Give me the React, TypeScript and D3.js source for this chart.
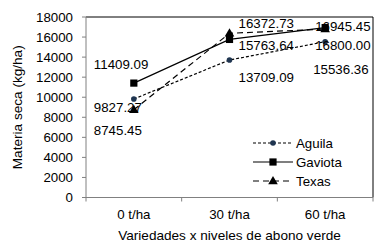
import React from "react";
import * as d3 from "d3";

const categories = ["0 t/ha", "30 t/ha", "60 t/ha"];
const seriesNames = ["Aguila", "Gaviota", "Texas"];
const aguila = [9827.27, 13709.09, 15536.36];
const gaviota = [11409.09, 15763.64, 16945.45];
const texas = [8745.45, 16372.73, 16800.0];
const yTicks = [0, 2000, 4000, 6000, 8000, 10000, 12000, 14000, 16000, 18000];

// label offsets (dx from category centre to text start, dy from point to baseline)
const labelOffsets: Record<string, [number, number][]> = {
  Aguila: [[-40, 13], [9, 22], [-12, 32]],
  Gaviota: [[-40, -14], [9, 11], [-10, 3]],
  Texas: [[-40, 25], [9, -5], [-10, 21]],
};

const W = 381, H = 246;
const L = 86, R = 373, T = 17, B = 197.5;
const font = "Liberation Sans, Arial, sans-serif";

export default function App() {
  const x = d3.scaleBand<string>().domain(categories).range([L, R]).padding(0);
  const y = d3.scaleLinear().domain([0, 18000]).range([B, T]);
  const cx = (c: string) => (x(c) as number) + x.bandwidth() / 2;
  const series = [
    { name: "Aguila", values: aguila, dash: "3,2", marker: "circle" },
    { name: "Gaviota", values: gaviota, dash: "", marker: "square" },
    { name: "Texas", values: texas, dash: "6,4", marker: "triangle" },
  ];
  const line = d3
    .line<number>()
    .x((_, i) => cx(categories[i]))
    .y((v) => y(v));
  const boundaries = [...categories.map((c) => x(c) as number), R];

  const marker = (type: string, px: number, py: number, key?: string) => {
    if (type === "circle")
      return <circle key={key} cx={px} cy={py} r={2.8} fill="#1f3550" />;
    if (type === "square")
      return <rect key={key} x={px - 3.6} y={py - 3.6} width={7.2} height={7.2} fill="#000" />;
    const s = d3.symbol(d3.symbolTriangle, 40)() as string;
    return <path key={key} d={s} transform={`translate(${px},${py + 0.5})`} fill="#000" />;
  };

  return (
    <svg width={W} height={H} style={{ position: "absolute", left: 0, top: 0, background: "#fff" }} fontFamily={font}>
      <rect x={0} y={0} width={W} height={H} fill="#fff" />
      {/* box */}
      <line x1={L} x2={R} y1={T} y2={T} stroke="#000" strokeWidth={1} />
      <line x1={R} x2={R} y1={T} y2={B} stroke="#000" strokeWidth={1} />
      <line x1={L} x2={L} y1={T} y2={B} stroke="#808080" strokeWidth={1} />
      <line x1={L} x2={R} y1={B} y2={B} stroke="#808080" strokeWidth={1} />
      {yTicks.map((t) => (
        <g key={t}>
          <line x1={L - 4} x2={L} y1={y(t)} y2={y(t)} stroke="#808080" />
          <text x={73} y={y(t)} dy="0.35em" textAnchor="end" fontSize={13.3} fill="#000">
            {t}
          </text>
        </g>
      ))}
      {boundaries.map((b, i) => (
        <line key={i} x1={b} x2={b} y1={B} y2={B + 4} stroke="#808080" />
      ))}
      {categories.map((c) => (
        <text key={c} x={cx(c)} y={219} textAnchor="middle" fontSize={13.3} fill="#000">
          {c}
        </text>
      ))}
      <text x={(L + R) / 2} y={240} textAnchor="middle" fontSize={13.6} fill="#000">
        Variedades x niveles de abono verde
      </text>
      <text
        transform={`translate(22,${(T + B) / 2}) rotate(-90)`}
        textAnchor="middle"
        fontSize={13.6}
        fill="#000"
      >
        Materia seca (kg/ha)
      </text>
      {series.map((s) => (
        <g key={s.name}>
          <path d={line(s.values) as string} fill="none" stroke="#000" strokeWidth={1.2} strokeDasharray={s.dash} />
          {s.values.map((v, i) => marker(s.marker, cx(categories[i]), y(v), `${s.name}${i}`))}
        </g>
      ))}
      {series.map((s) =>
        s.values.map((v, i) => {
          const [dx, dy] = labelOffsets[s.name][i];
          return (
            <text key={`l${s.name}${i}`} x={cx(categories[i]) + dx} y={y(v) + dy} fontSize={13.3} fill="#000">
              {v.toFixed(2)}
            </text>
          );
        })
      )}
      {/* legend */}
      {series.map((s, i) => {
        const ly = 143 + i * 19;
        return (
          <g key={`lg${s.name}`}>
            <line x1={253} x2={293} y1={ly} y2={ly} stroke="#000" strokeWidth={1.2} strokeDasharray={s.dash} />
            {marker(s.marker, 273, ly)}
            <text x={296} y={ly} dy="0.35em" fontSize={13.3} fill="#000">
              {seriesNames[i]}
            </text>
          </g>
        );
      })}
    </svg>
  );
}
